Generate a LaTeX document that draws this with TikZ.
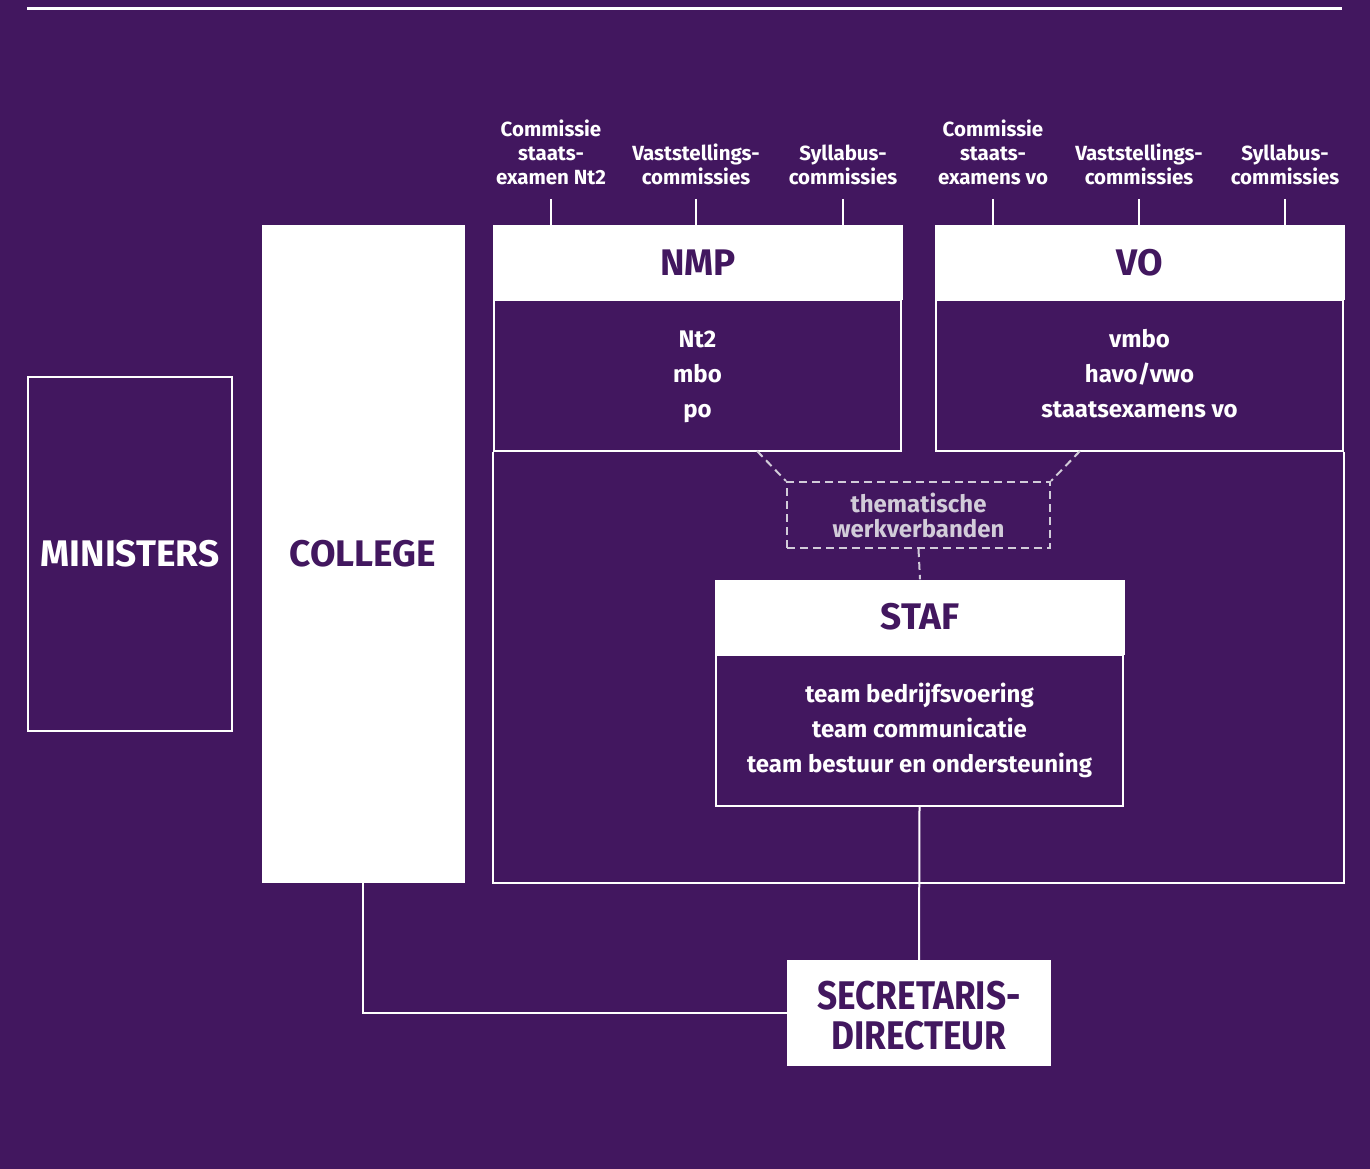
\documentclass[tikz,border=0pt]{standalone}
\usepackage{fontspec}
\setmainfont{Fira Sans}
\definecolor{bg}{HTML}{42175F}
\definecolor{dashc}{HTML}{D2CCD9}
\newcommand{\topstrut}{\rule{0pt}{24.5pt}}
\newcommand{\botstrut}{\rule[-10.5pt]{0pt}{10.5pt}}
\begin{document}
\begin{tikzpicture}[x=1pt,y=-1pt]
\tikzset{
  ln/.style={draw=white, line width=2pt},
  hdr/.style={fill=white, text=bg, inner sep=0pt, minimum width=410pt, minimum height=75pt, font=\bfseries\fontsize{37}{40}\selectfont},
  body/.style={draw=white, line width=2pt, text=white, inner sep=0pt, align=center, minimum width=407pt, minimum height=151pt, font=\bfseries\fontsize{24}{35}\selectfont},
  toplab/.style={text=white, inner sep=0pt, align=center, anchor=south, font=\bfseries\fontsize{20.5}{24}\selectfont},
  dsh/.style={draw=dashc, line width=2pt, dash pattern=on 8pt off 5pt},
  big/.style={inner sep=0pt, font=\bfseries\fontsize{37}{40}\selectfont},
}
\fill[bg] (0,0) rectangle (1370,1169);
\useasboundingbox (0,0) rectangle (1370,1169);
\coordinate (tl) at (27,9);
\coordinate (tr) at (1342,9);
\draw[white, line width=3pt] (tl) -- (tr);

% left blocks
\node[big, draw=white, line width=2pt, text=white, minimum width=204pt, minimum height=354pt] (min) at (130,554) {MINISTERS};
\node[big, fill=white, text=bg, minimum width=203pt, minimum height=658pt] (col) at (363,554) {COLLEGE};

% NMP
\node[hdr] (nmph) at (698,262.5) {NMP};
\node[body] (nmpb) at (697.5,375.5) {\topstrut Nt2\\mbo\\po\botstrut};
% VO
\node[hdr] (voh) at (1140,262.5) {VO};
\node[body] (vob) at (1139.5,375.5) {\topstrut vmbo\\havo/vwo\\staatsexamens vo\botstrut};

% big frame
\draw[ln] (nmpb.south west) -- (nmpb.south west |- col.south) -| (vob.south east);

% top labels
\node[toplab] (l1) at (551,185) {Commissie\\staats-\\examen Nt2};
\node[toplab] (l2) at (696,185) {Vaststellings-\\commissies};
\node[toplab] (l3) at (843,185) {Syllabus-\\commissies};
\node[toplab] (l4) at (993,185) {Commissie\\staats-\\examens vo};
\node[toplab] (l5) at (1139,185) {Vaststellings-\\commissies};
\node[toplab] (l6) at (1285,185) {Syllabus-\\commissies};
\foreach \n/\h in {l1/nmph,l2/nmph,l3/nmph,l4/voh,l5/voh,l6/voh}{
  \draw[ln] (\n.south |- 0,199) -- (\n.south |- \h.north);
}

% thematische werkverbanden
\node[dsh, text=dashc, inner sep=0pt, align=center, minimum width=263pt, minimum height=66pt, font=\bfseries\fontsize{24}{25}\selectfont] (twb) at (918.5,515) {thematische\\werkverbanden};
\coordinate (d1) at (757,451);
\coordinate (d2) at (1080,451);
\draw[dsh] (d1) -- (twb.north west);
\draw[dsh] (d2) -- (twb.north east);

% STAF
\node[hdr] (stafh) at (920,617) {STAF};
\node[body] (stafb) at (919.5,730.5) {\topstrut team bedrijfsvoering\\team communicatie\\team bestuur en ondersteuning\botstrut};
\draw[dsh] (twb.south) -- (stafh.north);

% secretaris-directeur
\node[fill=white, text=bg, inner sep=0pt, align=center, minimum width=264pt, minimum height=106pt, font=\bfseries\fontsize{40}{39.5}\selectfont] (sd) at (919,1013) {\rule{0pt}{34pt}\scalebox{0.88}[1]{SECRETARIS-}\\\scalebox{0.88}[1]{DIRECTEUR}};
\draw[ln] (stafb.south) -- (sd.north);
\draw[ln] (col.south) |- (sd.west);
\end{tikzpicture}
\end{document}
